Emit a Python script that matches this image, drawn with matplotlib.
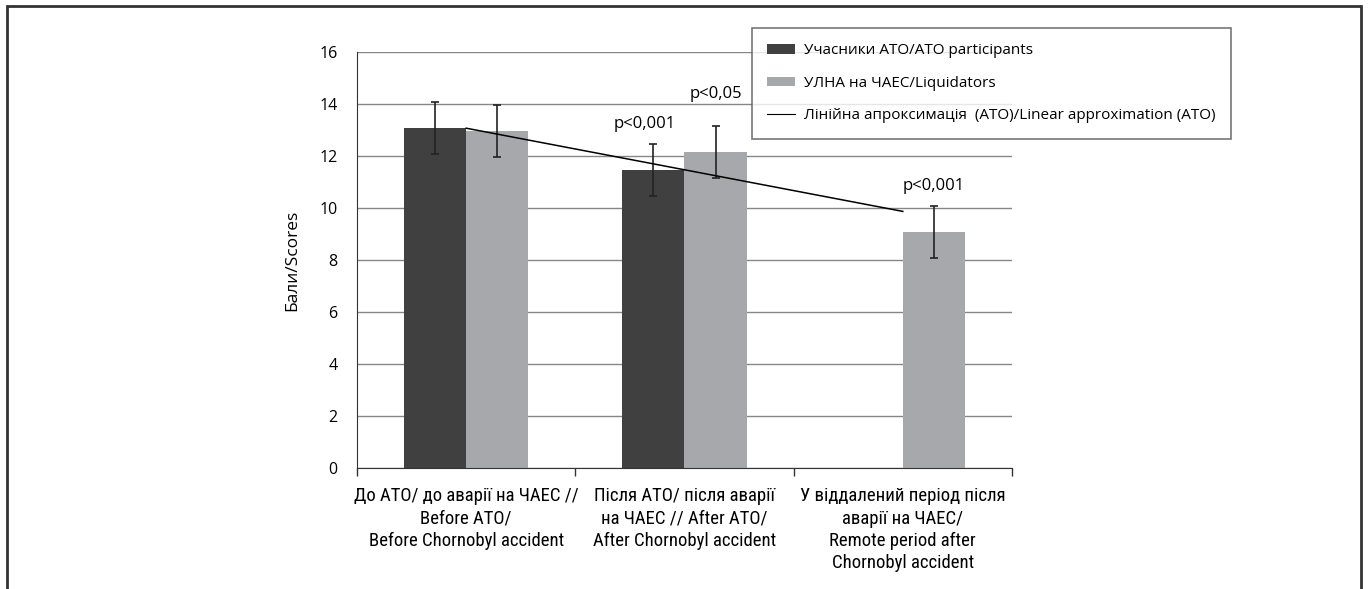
import numpy as np
import matplotlib
matplotlib.use("Agg")
import matplotlib.pyplot as plt
from matplotlib.patches import Rectangle, Patch
from matplotlib.lines import Line2D

# ── Data ────────────────────────────────────────────────────────────────
categories = [
    "До АТО/ до аварії на ЧАЕС //\nBefore АТО/\nBefore Chornobyl accident",
    "Після АТО/ після аварії\nна ЧАЕС // After ATO/\nAfter Chornobyl accident",
    "У віддалений період після\nаварії на ЧАЕС/\nRemote period after\nChornobyl accident",
]
ato_vals = [13.07, 11.47, np.nan]
ato_err = [1.0, 1.0, np.nan]
liq_vals = [12.95, 12.17, 9.07]
liq_err = [1.0, 1.0, 1.0]
p_labels = ["p<0,001", "p<0,05", "p<0,001"]
yticks = [0, 2, 4, 6, 8, 10, 12, 14, 16]

DARK = "#404041"
LIGHT = "#a7a8ab"
SANS = ["Open Sans", "DejaVu Sans"]
NARROW = ["Roboto Condensed", "PT Sans Narrow", "DejaVu Sans"]

fig = plt.figure(figsize=(13.69, 5.89), dpi=100)
ax = fig.add_axes([0.2608, 0.2054, 0.4784, 0.7063])

x = np.arange(len(categories))
w = 0.284
ax.bar(x - w / 2, ato_vals, w, color=DARK, zorder=2)
ax.bar(x + w / 2, liq_vals, w, color=LIGHT, zorder=2)
ax.errorbar(x - w / 2, ato_vals, yerr=ato_err, fmt="none", ecolor="#222222",
            elinewidth=1.2, capsize=3, capthick=1.2, zorder=3)
ax.errorbar(x + w / 2, liq_vals, yerr=liq_err, fmt="none", ecolor="#222222",
            elinewidth=1.2, capsize=3, capthick=1.2, zorder=3)

# linear approximation of ATO series (fit on available points)
mask = ~np.isnan(ato_vals)
k, b = np.polyfit(x[mask], np.array(ato_vals)[mask], 1)
xt = x.astype(float)
ax.plot(xt, k * xt + b, color="black", lw=1.1, zorder=4)

# p-value labels
ax.text(x[1] - w / 2 - 0.04, ato_vals[1] + ato_err[1] + 0.45, p_labels[0],
        ha="center", va="bottom", fontsize=12, family=SANS)
ax.text(x[1] + w / 2, liq_vals[1] + liq_err[1] + 0.9, p_labels[1],
        ha="center", va="bottom", fontsize=12, family=SANS)
ax.text(x[2] + w / 2, liq_vals[2] + liq_err[2] + 0.45, p_labels[2],
        ha="center", va="bottom", fontsize=12, family=SANS)

ax.set_xlim(-0.5, 2.5)
ax.set_ylim(0, 16)
ax.set_yticks(yticks)
ax.yaxis.grid(True, color="#868686", lw=1.0, zorder=0)
ax.set_axisbelow(True)
ax.tick_params(axis="y", length=0, pad=14, labelsize=11.5)
for lab in ax.get_yticklabels():
    lab.set_family(SANS)

ax.set_xticks(x)
ax.set_xticklabels(categories, fontsize=13.5, family=NARROW, linespacing=1.3)
ax.tick_params(axis="x", which="major", length=0, pad=14)
ax.set_xticks([-0.5, 0.5, 1.5, 2.5], minor=True)
ax.tick_params(axis="x", which="minor", length=6, color="#333333", width=1)

for s in ["top", "right"]:
    ax.spines[s].set_visible(False)
ax.spines["left"].set_color("#333333")
ax.spines["bottom"].set_color("#333333")
ax.set_ylabel("Бали/Scores", fontsize=12.5, family=SANS, labelpad=14)

handles = [
    Patch(facecolor=DARK, edgecolor="none"),
    Patch(facecolor=LIGHT, edgecolor="none"),
    Line2D([0], [0], color="black", lw=0.8),
]
labels = [
    "Учасники АТО/ATO participants",
    "УЛНА на ЧАЕС/Liquidators",
    "Лінійна апроксимація  (АТО)/Linear approximation (ATO)",
]
leg = fig.legend(handles, labels, loc="upper left", bbox_to_anchor=(752 / 1369, 1 - 28 / 589),
                 borderaxespad=0, frameon=True, fancybox=False, edgecolor="#555555",
                 prop={"family": SANS, "size": 11}, handlelength=1.8,
                 handleheight=0.6, labelspacing=1.15, borderpad=1.0,
                 handletextpad=0.6)
leg.get_frame().set_linewidth(1.2)

# outer frame
fig.patches.append(Rectangle((7 / 1369, -0.05), 1354 / 1369, 1.05 - 6 / 589,
                             transform=fig.transFigure, fill=False,
                             edgecolor="#333333", lw=2.0))

fig.savefig("out.png", dpi=100)
